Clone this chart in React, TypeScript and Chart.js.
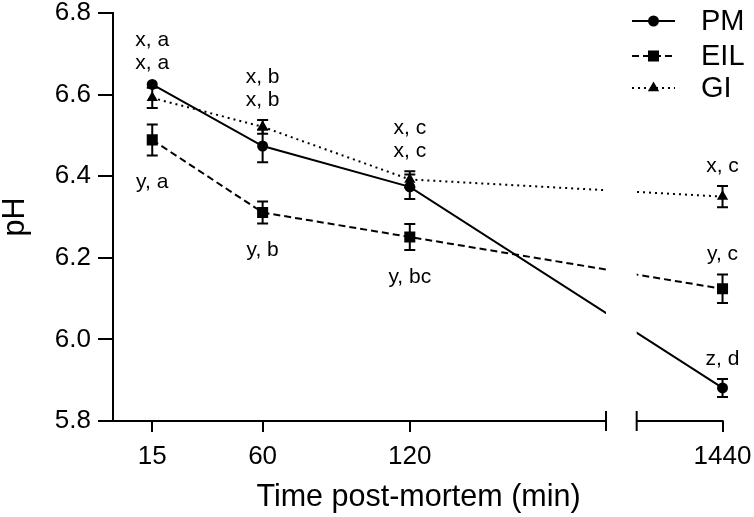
import React, { useEffect, useRef } from 'react';
import { Chart, registerables } from 'chart.js';

Chart.register(...registerables);

// ---------- data ----------
const timeLabels = ['15', '60', '120', '1440'];
const timePoints = [15, 60, 120, 1440];

const pmMean = [6.625, 6.474, 6.374, 5.881];
const pmSem = [0.004, 0.04, 0.03, 0.022];
const eilMean = [6.489, 6.311, 6.251, 6.124];
const eilSem = [0.038, 0.027, 0.032, 0.035];
const giMean = [6.592, 6.521, 6.392, 6.35];
const giSem = [0.025, 0.017, 0.02, 0.026];

const pmLetters = ['x, a', 'x, b', 'x, c', 'z, d'];
const eilLetters = ['y, a', 'y, b', 'y, bc', 'y, c'];
const giLetters = ['x, a', 'x, b', 'x, c', 'x, c'];
const pmLetterSide = ['above', 'above', 'above', 'above'];
const eilLetterSide = ['below', 'below', 'below', 'above'];
const giLetterSide = ['above', 'above', 'above', 'above'];

const seriesNames = ['PM', 'EIL', 'GI'];
const yTicks = [5.8, 6.0, 6.2, 6.4, 6.6, 6.8];

// ---------- broken x axis ----------
const SEG1_MIN = -1;
const SEG1_END = 200;
const SEG2_START = 1405;
const GAP = 12.5;
const toAxis = (t: number) => (t <= SEG1_END ? t : SEG1_END + GAP + (t - SEG2_START));
const X_MAX = toAxis(1440) + 0.6;

const FONT = "'Liberation Sans', Arial, Helvetica, sans-serif";

const means = [pmMean, eilMean, giMean];
const sems = [pmSem, eilSem, giSem];
const letters = [pmLetters, eilLetters, giLetters];
const sides = [pmLetterSide, eilLetterSide, giLetterSide];
const pointStyles = ['circle', 'rect', 'triangle'];
const pointRadii = [5.5, 7.8, 6.5];
const dashes: number[][] = [[], [7, 4], [2, 4]];

const drawMarker = (ctx: CanvasRenderingContext2D, style: string, r: number, x: number, y: number) => {
  ctx.beginPath();
  if (style === 'circle') {
    ctx.arc(x, y, r, 0, Math.PI * 2);
  } else if (style === 'rect') {
    const s = Math.SQRT1_2 * r;
    ctx.rect(x - s, y - s, 2 * s, 2 * s);
  } else {
    const a = (2 * Math.PI) / 3;
    ctx.moveTo(x, y - r);
    ctx.lineTo(x + Math.sin(a) * r, y - Math.cos(a) * r);
    ctx.lineTo(x + Math.sin(2 * a) * r, y - Math.cos(2 * a) * r);
    ctx.closePath();
  }
  ctx.fill();
};

const customPlugin = {
  id: 'customDraw',
  beforeDatasetDraw(chart: any) {
    const { ctx, scales } = chart;
    const gl = scales.x.getPixelForValue(SEG1_END);
    const gr = scales.x.getPixelForValue(SEG1_END + GAP);
    ctx.save();
    ctx.beginPath();
    ctx.rect(0, 0, gl, chart.height);
    ctx.rect(gr, 0, chart.width - gr, chart.height);
    ctx.clip();
  },
  afterDatasetDraw(chart: any) {
    chart.ctx.restore();
  },
  afterDatasetsDraw(chart: any) {
    const { ctx, chartArea, scales } = chart;
    const xs = scales.x;
    const ys = scales.y;
    ctx.save();
    ctx.strokeStyle = '#000';
    ctx.fillStyle = '#000';
    ctx.lineWidth = 2;
    ctx.setLineDash([]);

    // error bars
    means.forEach((m, s) => {
      m.forEach((v, i) => {
        const x = xs.getPixelForValue(toAxis(timePoints[i]));
        const yt = ys.getPixelForValue(v + sems[s][i]);
        const yb = ys.getPixelForValue(v - sems[s][i]);
        if (yb - yt < 2 * pointRadii[s] * 0.8) return;
        ctx.beginPath();
        ctx.moveTo(x, yt);
        ctx.lineTo(x, yb);
        ctx.moveTo(x - 5.5, yt);
        ctx.lineTo(x + 5.5, yt);
        ctx.moveTo(x - 5.5, yb);
        ctx.lineTo(x + 5.5, yb);
        ctx.stroke();
      });
    });

    // x axis with break
    const yAxis = chartArea.bottom;
    const x0 = chartArea.left - 1;
    const x1 = xs.getPixelForValue(SEG1_END);
    const x2 = xs.getPixelForValue(SEG1_END + GAP);
    const x3 = xs.getPixelForValue(toAxis(1440));
    ctx.beginPath();
    ctx.moveTo(x0, yAxis);
    ctx.lineTo(x1, yAxis);
    ctx.moveTo(x2, yAxis);
    ctx.lineTo(x3 + 1, yAxis);
    ctx.moveTo(x1, yAxis - 10);
    ctx.lineTo(x1, yAxis + 10);
    ctx.moveTo(x2, yAxis - 10);
    ctx.lineTo(x2, yAxis + 10);
    ctx.stroke();

    // significance letters
    ctx.font = `21px ${FONT}`;
    ctx.textAlign = 'center';
    ctx.textBaseline = 'middle';
    timePoints.forEach((t, i) => {
      const x = xs.getPixelForValue(toAxis(t));
      const above: { s: number; top: number }[] = [];
      for (let s = 0; s < means.length; s++) {
        const ytop = ys.getPixelForValue(means[s][i] + sems[s][i]);
        const ybot = ys.getPixelForValue(means[s][i] - sems[s][i]);
        if (sides[s][i] === 'above') {
          above.push({ s, top: ytop });
        } else {
          ctx.fillText(letters[s][i], x, ybot + 27);
        }
      }
      above.sort((a, b) => a.top - b.top);
      const groups: { s: number; top: number }[][] = [];
      above.forEach((a) => {
        const g = groups[groups.length - 1];
        if (g && a.top - g[g.length - 1].top < 40) g.push(a);
        else groups.push([a]);
      });
      groups.forEach((g) => {
        const base = g[0].top;
        g.forEach((a, k) => {
          ctx.fillText(letters[a.s][i], x, base - 20 - k * 23);
        });
      });
    });

    // legend
    const rows = [21, 56, 88];
    seriesNames.forEach((name, s) => {
      const y = rows[s];
      ctx.lineWidth = 2;
      ctx.setLineDash(dashes[s]);
      ctx.beginPath();
      ctx.moveTo(632, y);
      ctx.lineTo(675, y);
      ctx.stroke();
      ctx.setLineDash([]);
      drawMarker(ctx, pointStyles[s], pointRadii[s], 653.5, y);
      ctx.font = `29px ${FONT}`;
      ctx.textAlign = 'left';
      ctx.textBaseline = 'middle';
      ctx.fillText(name, 701, y + 1);
    });
    ctx.restore();
  },
};

export default function App() {
  const ref = useRef<HTMLCanvasElement | null>(null);
  useEffect(() => {
    if (!ref.current) return;
    const datasets = seriesNames.map((name, s) => ({
      label: name,
      data: means[s].map((v, i) => ({ x: toAxis(timePoints[i]), y: v })),
      borderColor: '#000',
      backgroundColor: '#000',
      borderWidth: 2,
      borderDash: dashes[s],
      pointStyle: pointStyles[s] as any,
      pointRadius: pointRadii[s],
      pointBorderWidth: 0,
      pointBackgroundColor: '#000',
      tension: 0,
      clip: false as any,
    }));
    const chart = new Chart(ref.current, {
      type: 'line',
      data: { datasets },
      plugins: [customPlugin],
      options: {
        animation: false,
        responsive: false,
        devicePixelRatio: 1,
        layout: { padding: { top: 13, right: 30, left: 0, bottom: 0 } },
        plugins: { legend: { display: false }, tooltip: { enabled: false } },
        scales: {
          x: {
            type: 'linear',
            min: SEG1_MIN,
            max: X_MAX,
            afterBuildTicks: (sc: any) => {
              sc.ticks = timePoints.map((t) => ({ value: toAxis(t) }));
            },
            afterFit: (sc: any) => {
              sc.height = 96;
              sc.paddingLeft = 0;
              sc.paddingRight = 0;
            },
            ticks: {
              autoSkip: false,
              maxRotation: 0,
              padding: 9,
              color: '#000',
              font: { size: 26, family: FONT },
              callback: (v: any) => {
                const idx = timePoints.findIndex((t) => Math.abs(toAxis(t) - Number(v)) < 1e-6);
                return idx >= 0 ? timeLabels[idx] : '';
              },
            },
            grid: { drawOnChartArea: false, drawTicks: true, tickLength: 11, color: '#000', lineWidth: 2 },
            border: { display: false },
            title: {
              display: true,
              text: 'Time post-mortem (min)',
              color: '#000',
              font: { size: 30.5, family: FONT, lineHeight: 1 },
              padding: { top: 0, bottom: 4 },
            },
          },
          y: {
            min: 5.8,
            max: 6.8,
            afterBuildTicks: (sc: any) => {
              sc.ticks = yTicks.map((v) => ({ value: v }));
            },
            afterFit: (sc: any) => {
              sc.width = 113;
              sc.paddingTop = 0;
              sc.paddingBottom = 0;
            },
            ticks: {
              padding: 7,
              color: '#000',
              font: { size: 26, family: FONT },
              callback: (v: any) => Number(v).toFixed(1),
            },
            grid: { drawOnChartArea: false, drawTicks: true, tickLength: 15, color: '#000', lineWidth: 2 },
            border: { display: true, color: '#000', width: 2 },
            title: {
              display: true,
              text: 'pH',
              color: '#000',
              font: { size: 30.5, family: FONT, lineHeight: 1 },
              padding: { top: 0, bottom: 0 },
            },
          },
        },
      },
    });
    return () => chart.destroy();
  }, []);
  return (
    <div style={{ position: 'fixed', left: 0, top: 0, width: 754, height: 517, background: '#fff' }}>
      <canvas ref={ref} width={754} height={517} style={{ display: 'block' }} />
    </div>
  );
}
